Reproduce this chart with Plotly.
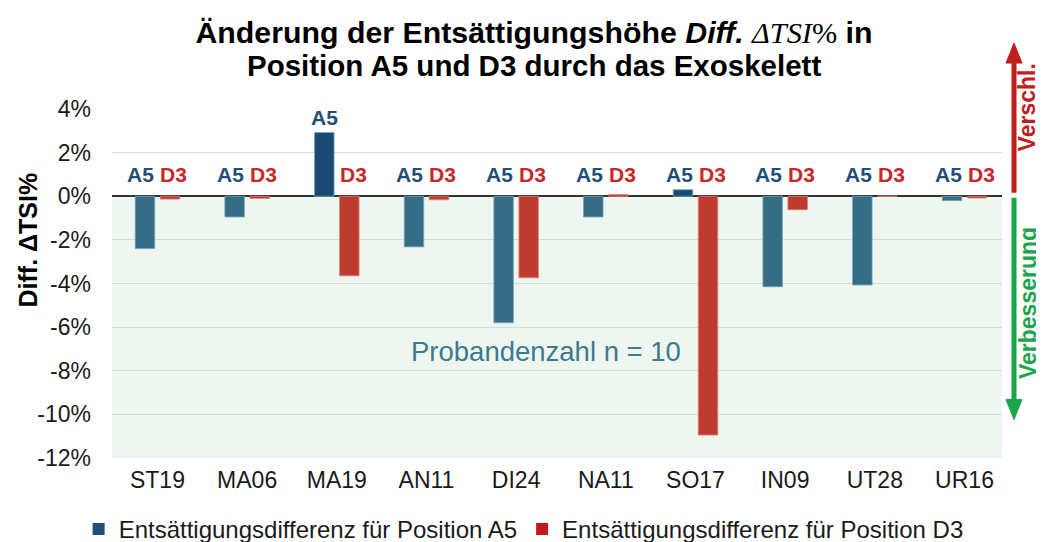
import plotly.graph_objects as go

# ---------------- data ----------------
categories = ["ST19", "MA06", "MA19", "AN11", "DI24", "NA11", "SO17", "IN09", "UT28", "UR16"]
a5_values = [-2.40, -0.95, 2.92, -2.32, -5.80, -0.95, 0.30, -4.15, -4.07, -0.20]
d3_values = [-0.13, -0.10, -3.65, -0.16, -3.74, 0.08, -10.95, -0.62, 0.00, -0.08]
series_names = ["Entsättigungsdifferenz für Position A5", "Entsättigungsdifferenz für Position D3"]
label_names = ["A5", "D3"]
y_tick_values = [4, 2, 0, -2, -4, -6, -8, -10, -12]
y_tick_labels = ["4%", "2%", "0%", "-2%", "-4%", "-6%", "-8%", "-10%", "-12%"]
y_range = [-12, 4]
label_level = 1.0

# ---------------- styles ----------------
FONT = "Liberation Sans, Arial, sans-serif"
SERIF = "Liberation Serif, DejaVu Serif, serif"
A5_NEG = "#356D87"
A5_POS = "#1A4A70"
D3_COL = "#BE3B30"
A5_TXT = "#1F4E79"
D3_TXT = "#C8282A"
LEG_A5 = "#1F4E79"
LEG_D3 = "#C5181A"
GREEN_BG = "#EEF7EF"
ARROW_RED = "#C0201C"
ARROW_GREEN = "#19A54A"

fig = go.Figure()

fig.add_trace(go.Bar(
    x=categories, y=a5_values, name=series_names[0], showlegend=False,
    marker=dict(color=[A5_POS if v > 0 else A5_NEG for v in a5_values],
                line=dict(color="rgba(120,165,185,0.8)", width=1)),
))
fig.add_trace(go.Bar(
    x=categories, y=d3_values, name=series_names[1], showlegend=False,
    marker=dict(color=D3_COL, line=dict(color="rgba(220,130,120,0.8)", width=1)),
))
# legend proxies
fig.add_trace(go.Scatter(x=[None], y=[None], mode="markers", name=series_names[0],
                         marker=dict(symbol="square", size=12, color=LEG_A5)))
fig.add_trace(go.Scatter(x=[None], y=[None], mode="markers", name=series_names[1],
                         marker=dict(symbol="square", size=12, color=LEG_D3)))

annotations = []
# A5 / D3 labels
for i, cat in enumerate(categories):
    a5 = a5_values[i]
    if a5 > label_level * 0.8:
        annotations.append(dict(x=i - 0.139, y=a5, xref="x", yref="y", text="<b>%s</b>" % label_names[0],
                                showarrow=False, xanchor="center", yanchor="bottom", yshift=2,
                                font=dict(family=FONT, size=21, color=A5_TXT)))
    else:
        annotations.append(dict(x=i - 0.184, y=label_level, xref="x", yref="y", text="<b>%s</b>" % label_names[0],
                                showarrow=False, xanchor="center", yanchor="middle",
                                font=dict(family=FONT, size=21, color=A5_TXT)))
    annotations.append(dict(x=i + 0.184, y=label_level, xref="x", yref="y", text="<b>%s</b>" % label_names[1],
                            showarrow=False, xanchor="center", yanchor="middle",
                            font=dict(family=FONT, size=21, color=D3_TXT)))

# second title line
annotations.append(dict(x=0.474, y=1.126, xref="paper", yref="paper",
                        text="<b>Position A5 und D3 durch das Exoskelett</b>",
                        showarrow=False, xanchor="center", yanchor="middle",
                        font=dict(family=FONT, size=29.5, color="#000000")))
# sample size note
annotations.append(dict(x=0.4876, y=0.305, xref="paper", yref="paper", text="Probandenzahl n = 10",
                        showarrow=False, xanchor="center", yanchor="middle",
                        font=dict(family=FONT, size=27.5, color="#3C7A92")))
# y axis title
annotations.append(dict(x=-0.0944, y=0.626, xref="paper", yref="paper",
                        text="<b>Diff. ΔTSI%</b>", textangle=-90, showarrow=False,
                        xanchor="center", yanchor="middle",
                        font=dict(family=FONT, size=25, color="#000000")))
# side labels
annotations.append(dict(x=1.0285, y=1.0057, xref="paper", yref="paper", text="<b>Verschl.</b>",
                        textangle=-90, showarrow=False, xanchor="center", yanchor="middle",
                        font=dict(family=FONT, size=23, color=ARROW_RED)))
annotations.append(dict(x=1.0285, y=0.445, xref="paper", yref="paper", text="<b>Verbesserung</b>",
                        textangle=-90, showarrow=False, xanchor="center", yanchor="middle",
                        font=dict(family=FONT, size=23, color=ARROW_GREEN)))

ax = 1.0135
hw = 0.009
shapes = [
    dict(type="rect", xref="paper", yref="y", x0=0, x1=1, y0=y_range[0], y1=0,
         fillcolor=GREEN_BG, line=dict(width=0), layer="below"),
    # red arrow (up)
    dict(type="line", xref="paper", yref="paper", x0=ax, x1=ax, y0=0.7597, y1=1.14,
         line=dict(color=ARROW_RED, width=5)),
    dict(type="path", xref="paper", yref="paper",
         path=f"M {ax-hw},1.1316 L {ax+hw},1.1316 L {ax},1.1888 Z",
         fillcolor=ARROW_RED, line=dict(color=ARROW_RED, width=1)),
    # green arrow (down)
    dict(type="line", xref="paper", yref="paper", x0=ax, x1=ax, y0=0.7454, y1=0.16,
         line=dict(color=ARROW_GREEN, width=5)),
    dict(type="path", xref="paper", yref="paper",
         path=f"M {ax-hw},0.1674 L {ax+hw},0.1674 L {ax},0.1102 Z",
         fillcolor=ARROW_GREEN, line=dict(color=ARROW_GREEN, width=1)),
]

title_text = ("<b>Änderung der Entsättigungshöhe <i>Diff.</i> "
              f"<span style='font-family:{SERIF};font-weight:normal'><i>ΔTSI</i>%</span> in</b>")

fig.update_layout(
    width=1036, height=534,
    margin=dict(l=104, r=42, t=101, b=83.5, autoexpand=False),
    paper_bgcolor="white", plot_bgcolor="white",
    font=dict(family=FONT, color="#1a1a1a"),
    title=dict(text=title_text, x=0.5077, xref="container", xanchor="center",
               y=0.955, yref="container", yanchor="middle",
               font=dict(family=FONT, size=30.3, color="#000000")),
    barmode="group", bargap=0.442, bargroupgap=0.22,
    xaxis=dict(type="category", range=[-0.507, 9.418], showgrid=False, showline=False,
               ticks="", ticklabelstandoff=6, tickangle=0,
               tickfont=dict(family=FONT, size=23, color="#1a1a1a")),
    yaxis=dict(range=y_range, tickvals=y_tick_values, ticktext=y_tick_labels,
               showgrid=True, gridcolor="#D9D9D9", gridwidth=1,
               zeroline=True, zerolinecolor="#333333", zerolinewidth=2,
               showline=False, ticks="", ticklabelstandoff=20,
               tickfont=dict(family=FONT, size=23, color="#1a1a1a")),
    legend=dict(orientation="h", x=0.4625, xref="paper", xanchor="center",
                y=-0.2046, yref="paper", yanchor="middle",
                font=dict(family=FONT, size=24, color="#1a1a1a"),
                itemwidth=30, tracegroupgap=0, bgcolor="rgba(0,0,0,0)"),
    annotations=annotations,
    shapes=shapes,
)

fig.write_html("out.html")
